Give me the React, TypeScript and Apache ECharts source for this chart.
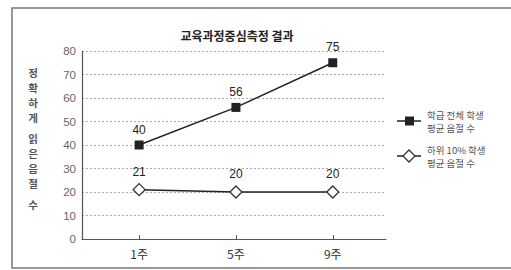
import React, { useEffect, useRef } from "react";
import * as echarts from "echarts";

const categories = ["1주", "5주", "9주"];
const seriesNames = ["학급 전체 학생 평균 음절 수", "하위 10% 학생 평균 음절 수"];
const legendLines = [
  ["학급 전체 학생", "평균 음절 수"],
  ["하위 10% 학생", "평균 음절 수"],
];
const allStudents = [40, 56, 75];
const lowStudents = [21, 20, 20];
const yTicks = [0, 10, 20, 30, 40, 50, 60, 70, 80];
const titleText = "교육과정중심측정 결과";
const yNameChars = ["정", "확", "하", "게", "읽", "은", "음", "절", "수"];

const KR = "'Noto Sans CJK KR', 'Noto Sans', sans-serif";
const LAT = "'Liberation Sans', Arial, sans-serif";

export default function App() {
  const ref = useRef<HTMLDivElement>(null);
  useEffect(() => {
    if (!ref.current) return;
    const chart = echarts.init(ref.current, null, { renderer: "svg" });
    const idx = categories.map((_, i) => i);
    const yNameY = [72, 87, 102, 117, 138, 153, 168, 183, 204];
    const legendY = [121, 156];
    const legendGraphics: any[] = [];
    legendLines.forEach((lines, i) => {
      const cy = legendY[i];
      legendGraphics.push({
        type: "line",
        shape: { x1: 397, y1: cy, x2: 421, y2: cy },
        style: { stroke: "#222", lineWidth: 1.5 },
      });
      if (i === 0) {
        legendGraphics.push({
          type: "rect",
          shape: { x: 405, y: cy - 4.5, width: 9, height: 9 },
          style: { fill: "#222" },
        });
      } else {
        legendGraphics.push({
          type: "polygon",
          shape: { points: [[409, cy - 6], [415, cy], [409, cy + 6], [403, cy]] },
          style: { fill: "#fff", stroke: "#333", lineWidth: 1.3 },
        });
      }
      lines.forEach((t, j) => {
        legendGraphics.push({
          type: "text",
          x: 427,
          y: cy - 6.5 + j * 13.5,
          style: {
            text: t,
            fontFamily: KR,
            fontSize: 9.5,
            fill: "#555",
            textAlign: "left",
            textVerticalAlign: "middle",
          },
        });
      });
    });
    chart.setOption({
      animation: false,
      backgroundColor: "#fff",
      title: {
        text: titleText,
        left: 232,
        top: 24,
        textAlign: "center",
        textStyle: { fontFamily: KR, fontSize: 12, fontWeight: "bold", color: "#222" },
      },
      legend: { show: false },
      grid: { left: 82, right: 125, top: 51, bottom: 31, containLabel: false },
      xAxis: {
        type: "value",
        min: -0.59,
        max: 2.55,
        axisLine: { show: true, onZero: false, lineStyle: { color: "#555", width: 1.2 } },
        axisTick: { show: true, inside: true, length: 4, customValues: idx, lineStyle: { color: "#555" } },
        axisLabel: {
          customValues: idx,
          formatter: (v: number) => categories[Math.round(v)] ?? "",
          fontFamily: KR,
          fontSize: 12,
          color: "#333",
          margin: 8,
        },
        splitLine: { show: false },
      },
      yAxis: {
        type: "value",
        min: yTicks[0],
        max: yTicks[yTicks.length - 1],
        interval: 10,
        axisLine: { show: true, onZero: false, lineStyle: { color: "#555", width: 1.2 } },
        axisTick: { show: false },
        axisLabel: { fontFamily: LAT, fontSize: 11.5, color: "#666", margin: 6 },
        splitLine: { show: true, lineStyle: { color: "#aaa", type: [2, 2], width: 1 } },
      },
      graphic: [
        {
          type: "rect",
          shape: { x: 12, y: 8, width: 520, height: 260 },
          style: { fill: "none", stroke: "#777", lineWidth: 1.5 },
          silent: true,
        },
        ...yNameChars.map((c, i) => ({
          type: "text",
          x: 33,
          y: yNameY[i],
          style: {
            text: c,
            fontFamily: KR,
            fontSize: 10.5,
            fontWeight: "bold",
            fill: "#555",
            textAlign: "center",
            textVerticalAlign: "middle",
          },
        })),
        ...legendGraphics,
      ],
      series: [
        {
          name: seriesNames[0],
          type: "line",
          data: allStudents.map((v, i) => [i, v]),
          symbol: "rect",
          symbolSize: 9,
          itemStyle: { color: "#222" },
          lineStyle: { color: "#222", width: 1.5 },
          label: { show: true, position: "top", distance: 5, fontFamily: LAT, fontSize: 12, color: "#222" },
        },
        {
          name: seriesNames[1],
          type: "line",
          data: lowStudents.map((v, i) => [i, v]),
          symbol: "diamond",
          symbolSize: 12,
          itemStyle: { color: "#fff", borderColor: "#333", borderWidth: 1.3 },
          lineStyle: { color: "#222", width: 1.5 },
          label: { show: true, position: "top", distance: 5, fontFamily: LAT, fontSize: 12, color: "#222" },
        },
      ],
    });
    return () => chart.dispose();
  }, []);
  return (
    <div
      ref={ref}
      style={{ position: "fixed", left: 0, top: 0, width: 511, height: 270 }}
    />
  );
}
